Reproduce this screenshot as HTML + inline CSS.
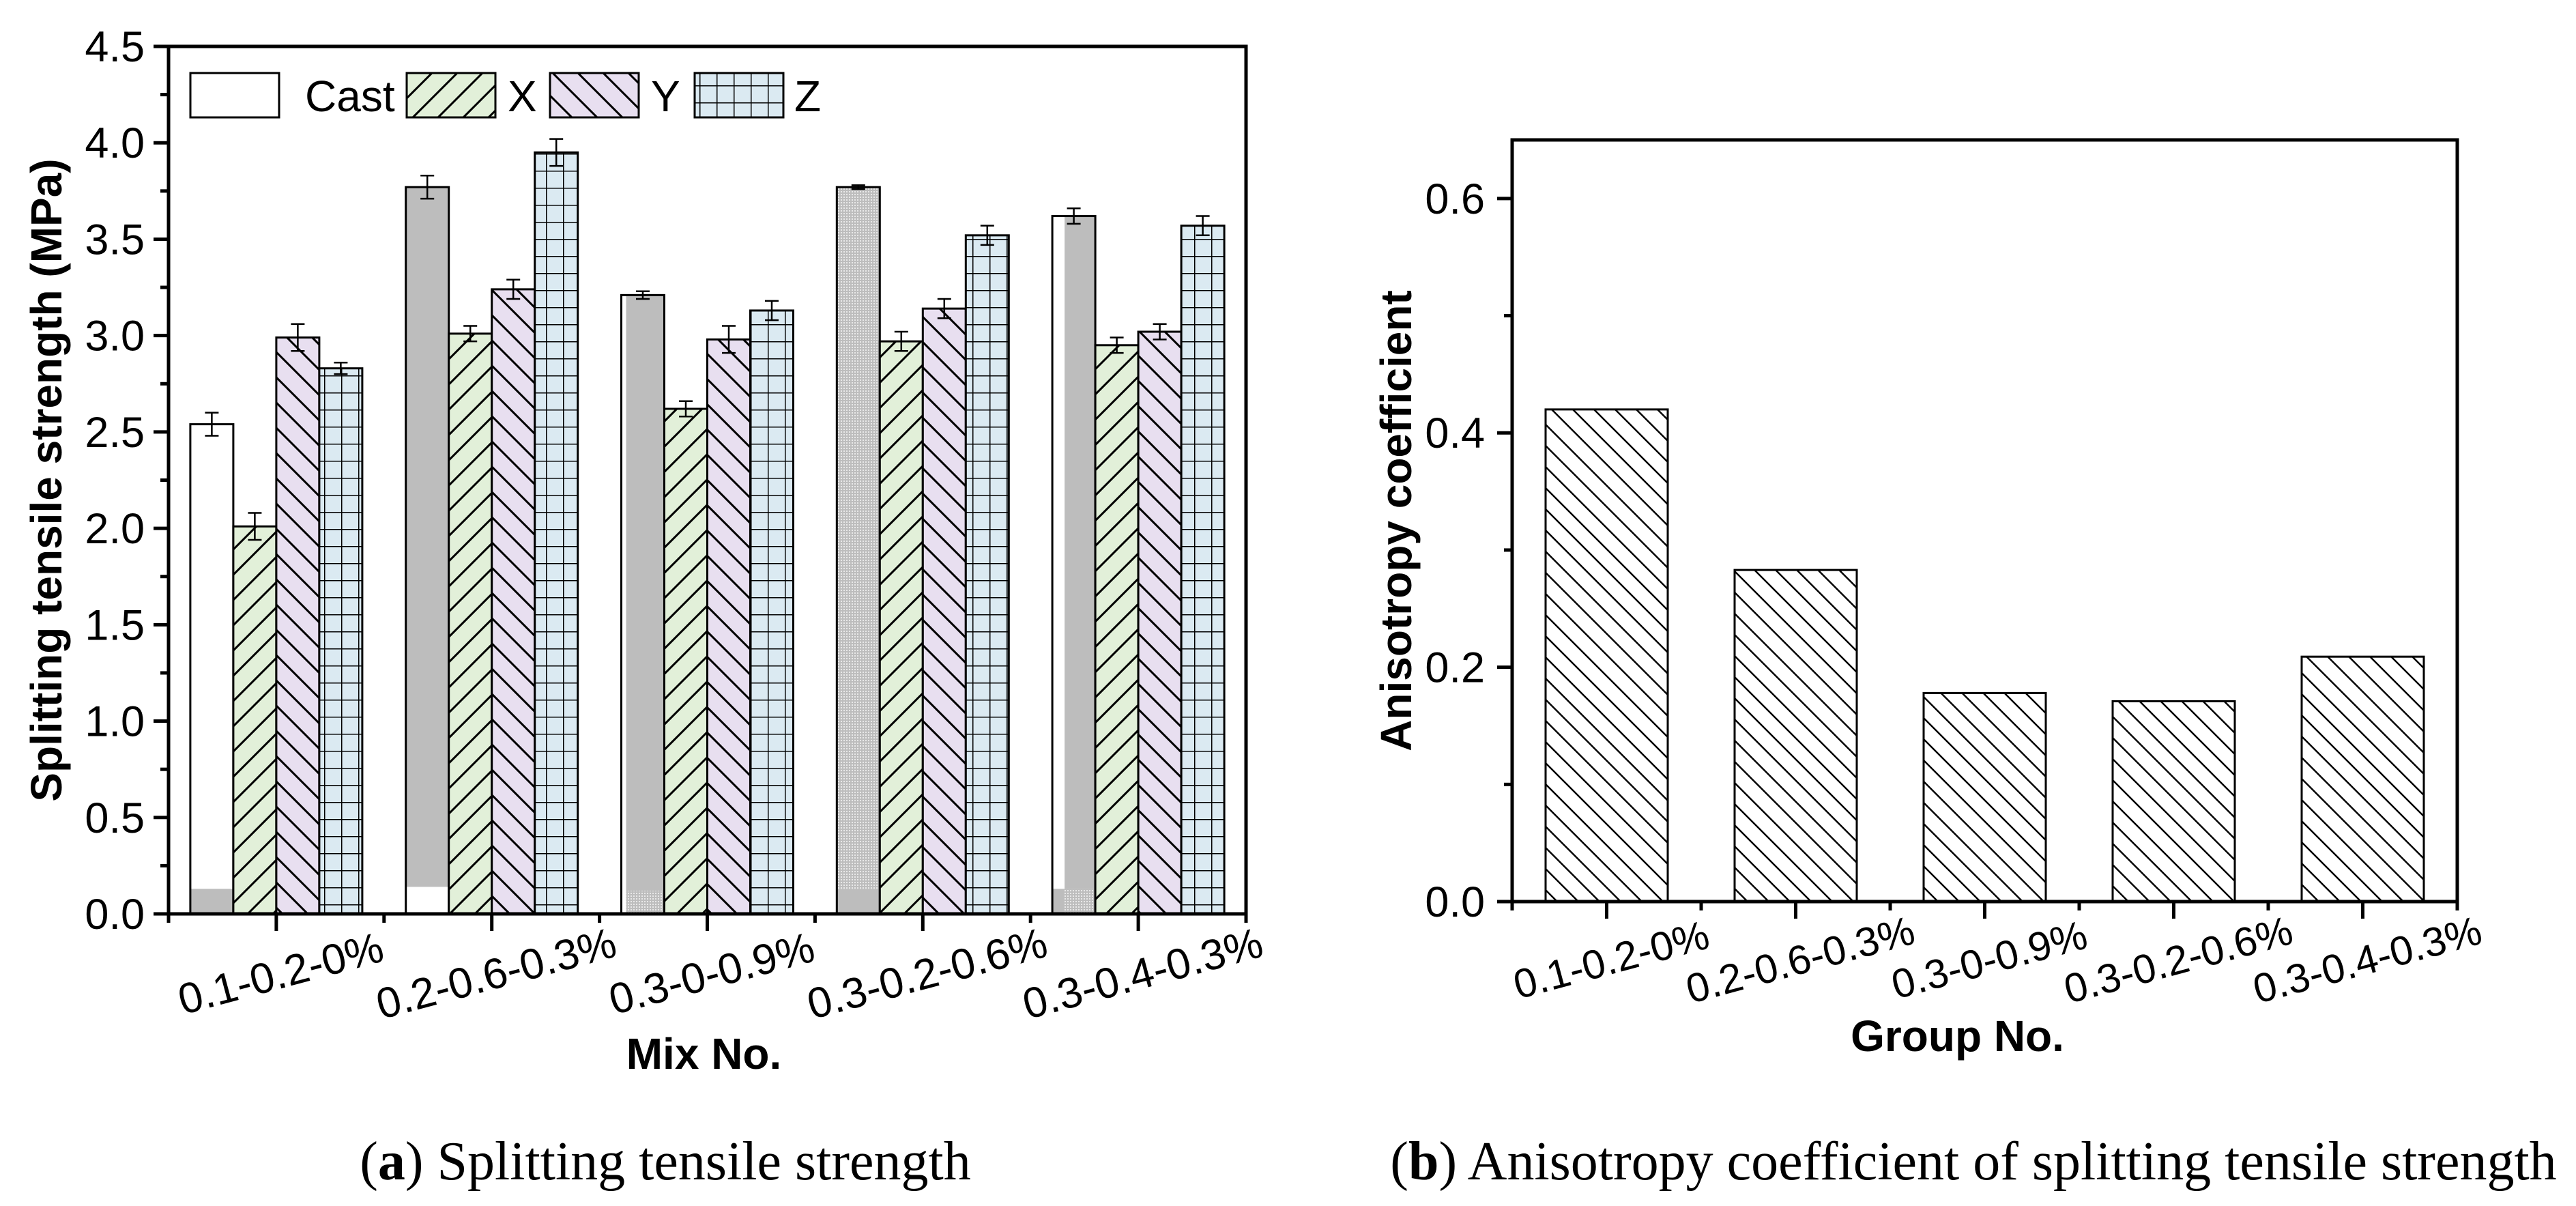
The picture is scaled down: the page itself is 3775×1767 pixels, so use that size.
<!DOCTYPE html>
<html><head><meta charset="utf-8"><style>
html,body{margin:0;padding:0;background:#fff}
svg{display:block}
text{font-family:"Liberation Sans",Arial,sans-serif}
</style></head><body>
<svg id="fig" width="3775" height="1767" viewBox="0 0 3775 1767" xmlns="http://www.w3.org/2000/svg">
<defs>
<pattern id="patX" patternUnits="userSpaceOnUse" width="37" height="37"><rect width="37" height="37" fill="#e2f0d9"/><path d="M-5,42 L42,-5 M-5,5 L5,-5 M32,42 L42,32" stroke="#000" stroke-width="3"/></pattern>
<pattern id="patY" patternUnits="userSpaceOnUse" width="37" height="37"><rect width="37" height="37" fill="#e8dff0"/><path d="M-5,-5 L42,42 M32,-5 L42,5 M-5,32 L5,42" stroke="#000" stroke-width="3"/></pattern>
<pattern id="patZ" patternUnits="userSpaceOnUse" width="25" height="25"><rect width="25" height="25" fill="#dbeaf2"/><path d="M0,0 H25 M0,0 V25" stroke="#000" stroke-width="3"/></pattern>
<pattern id="patDot" patternUnits="userSpaceOnUse" width="4" height="4"><rect width="4" height="4" fill="#bdbdbd"/><rect width="2" height="2" fill="#e8e8e8"/></pattern>
<pattern id="patB" patternUnits="userSpaceOnUse" width="31" height="31"><rect width="31" height="31" fill="#fff"/><path d="M-5,-5 L36,36 M26,-5 L36,5 M-5,26 L5,36" stroke="#000" stroke-width="2.5"/></pattern>
</defs>
<g id="chartA"></g>
<g id="chartB"></g>
<text style="font-family:'Liberation Serif',serif" x="975" y="1728" font-size="80" text-anchor="middle">(<tspan font-weight="bold">a</tspan>) Splitting tensile strength</text>
<text style="font-family:'Liberation Serif',serif" x="2892" y="1728" font-size="80" text-anchor="middle">(<tspan font-weight="bold">b</tspan>) Anisotropy coefficient of splitting tensile strength</text>
</svg>
<script>
const mixes = ["0.1-0.2-0%","0.2-0.6-0.3%","0.3-0-0.9%","0.3-0.2-0.6%","0.3-0.4-0.3%"];
const seriesNames = ["Cast","X","Y","Z"];
const castVals = [2.54,3.77,3.21,3.77,3.62];
const xVals = [2.01,3.01,2.62,2.97,2.95];
const yVals = [2.99,3.24,2.98,3.14,3.02];
const zVals = [2.83,3.95,3.13,3.52,3.57];
const castErr = [0.06,0.06,0.02,0.01,0.04];
const xErr = [0.07,0.04,0.04,0.05,0.04];
const yErr = [0.07,0.05,0.07,0.05,0.04];
const zErr = [0.03,0.07,0.05,0.05,0.05];
const castBase = [0.13,0.14,0.12,0.13,0.13];
const yTicksA = [0,0.5,1,1.5,2,2.5,3,3.5,4,4.5];
const groups = ["0.1-0.2-0%","0.2-0.6-0.3%","0.3-0-0.9%","0.3-0.2-0.6%","0.3-0.4-0.3%"];
const aniso = [0.42,0.283,0.178,0.171,0.209];
const yTicksB = [0,0.2,0.4,0.6];

const NS="http://www.w3.org/2000/svg";
function mk(parent,tag,attrs,txt){const e=document.createElementNS(NS,tag);for(const k in attrs)e.setAttribute(k,attrs[k]);if(txt!==undefined)e.textContent=txt;parent.appendChild(e);return e;}

// ---------- Chart A ----------
(function(){
const g=document.getElementById('chartA');
const L=247,R=1826,T=68,B=1339,ymax=4.5;
const yS=v=>B-(v/ymax)*(B-T);
const gw=(R-L)/mixes.length;
const bw=63;
const xS=(i,s)=>L+gw*i+(gw-4*bw)/2+s*bw;
const fills=[null,"url(#patX)","url(#patY)","url(#patZ)"];
const vals=[castVals,xVals,yVals,zVals];
const errs=[castErr,xErr,yErr,zErr];
for(let i=0;i<mixes.length;i++){
  for(let s=0;s<4;s++){
    const x=xS(i,s),v=vals[s][i],y=yS(v),h=B-y;
    if(s===0){
      const yb=yS(castBase[i]);
      const parts=[];
      if(i===0){parts.push([x,y,bw,yb-y,"#fff"]);parts.push([x,yb,bw,B-yb,"#bdbdbd"]);}
      else if(i===1){parts.push([x,y,bw,yb-y,"#bdbdbd"]);parts.push([x,yb,bw,B-yb,"#fff"]);}
      else if(i===2){parts.push([x,y,7,h,"#fff"]);parts.push([x+7,y,bw-7,yb-y,"#bdbdbd"]);parts.push([x+7,yb,bw-7,B-yb,"url(#patDot)"]);}
      else if(i===3){parts.push([x,y,bw,yb-y,"url(#patDot)"]);parts.push([x,yb,bw,B-yb,"#bdbdbd"]);}
      else {parts.push([x,y,18,yb-y,"#fff"]);parts.push([x+18,y,bw-18,yb-y,"#bdbdbd"]);parts.push([x,yb,18,B-yb,"#bdbdbd"]);parts.push([x+18,yb,bw-18,B-yb,"url(#patDot)"]);}
      parts.forEach(p=>{const r=mk(g,'rect',{x:p[0],y:p[1],width:p[2],height:p[3],fill:p[4]});
        
        });
      const o=mk(g,'rect',{x:x,y:y,width:bw,height:h,fill:"none",stroke:"#000","stroke-width":3});
      
      
    } else {
      const r=mk(g,'rect',{x:x,y:y,width:bw,height:h,fill:fills[s],stroke:"#000","stroke-width":3});
      
      
    }
    const e=errs[s][i],cx=x+bw/2,y1=yS(v+e),y2=yS(v-e);
    const eb=mk(g,'path',{d:`M${cx},${y1}V${y2}M${cx-10},${y1}H${cx+10}M${cx-10},${y2}H${cx+10}`,stroke:"#000","stroke-width":2.5,fill:"none"});
    
    
  }
}
const fr=mk(g,'rect',{x:L,y:T,width:R-L,height:B-T,fill:"none",stroke:"#000","stroke-width":5});


yTicksA.forEach(v=>{
  const y=yS(v);
  const t=mk(g,'line',{x1:L-22,x2:L,y1:y,y2:y,stroke:"#000","stroke-width":5});
  
  
  const lb=mk(g,'text',{x:L-35,y:y+22,"font-size":63,"text-anchor":"end"},v.toFixed(1));
  
  
  if(v<ymax){const m=mk(g,'line',{x1:L-12,x2:L,y1:yS(v+0.25),y2:yS(v+0.25),stroke:"#000","stroke-width":5});
    
    }
});
for(let i=0;i<=mixes.length;i++){
  const x=L+gw*i;
  const m=mk(g,'line',{x1:x,x2:x,y1:B,y2:B+13,stroke:"#000","stroke-width":5});
  
  
}
mixes.forEach((m,i)=>{
  const x=L+gw*(i+0.5);
  const t=mk(g,'line',{x1:x,x2:x,y1:B,y2:B+25,stroke:"#000","stroke-width":5});
  
  
  const lb=mk(g,'text',{x:0,y:0,"font-size":63,"text-anchor":"middle",transform:`translate(${x+12},${B+108}) rotate(-15)`},m);
  
  
});
const yt=mk(g,'text',{x:0,y:0,"font-size":64,"font-weight":"bold","text-anchor":"middle",transform:`translate(90,${(T+B)/2}) rotate(-90)`},"Splitting tensile strength (MPa)");


const xt=mk(g,'text',{x:(L+R)/2-5,y:1566,"font-size":64,"font-weight":"bold","text-anchor":"middle"},"Mix No.");


const leg=[[279,447,"Cast"],[596,744,"X"],[806,954,"Y"],[1018,1164,"Z"]];
const legFill=["#fff","url(#patX)","url(#patY)","url(#patZ)"];
leg.forEach((l,k)=>{
  const r=mk(g,'rect',{x:l[0],y:107,width:130,height:65,fill:legFill[k],stroke:"#000","stroke-width":3});
  
  
  const t=mk(g,'text',{x:l[1],y:163,"font-size":64},l[2]);
  
  
});
})();

// ---------- Chart B ----------
(function(){
const g=document.getElementById('chartB');
const L=2216,R=3601,T=205,B=1321,ymax=0.65;
const yS=v=>B-(v/ymax)*(B-T);
const gw=(R-L)/groups.length,bw=179;
groups.forEach((n,i)=>{
  const cx=L+gw*(i+0.5),y=yS(aniso[i]);
  const r=mk(g,'rect',{x:cx-bw/2,y:y,width:bw,height:B-y,fill:"url(#patB)",stroke:"#000","stroke-width":3});
  
  
});
const fr=mk(g,'rect',{x:L,y:T,width:R-L,height:B-T,fill:"none",stroke:"#000","stroke-width":5});


yTicksB.forEach(v=>{
  const y=yS(v);
  const t=mk(g,'line',{x1:L-22,x2:L,y1:y,y2:y,stroke:"#000","stroke-width":5});
  
  
  const lb=mk(g,'text',{x:L-40,y:y+22,"font-size":63,"text-anchor":"end"},v.toFixed(1));
  
  
  if(v+0.1<ymax){const m=mk(g,'line',{x1:L-12,x2:L,y1:yS(v+0.1),y2:yS(v+0.1),stroke:"#000","stroke-width":5});
    
    }
});
for(let i=0;i<=groups.length;i++){
  const x=L+gw*i;
  const m=mk(g,'line',{x1:x,x2:x,y1:B,y2:B+13,stroke:"#000","stroke-width":5});
  
  
}
groups.forEach((n,i)=>{
  const x=L+gw*(i+0.5);
  const t=mk(g,'line',{x1:x,x2:x,y1:B,y2:B+25,stroke:"#000","stroke-width":5});
  
  
  const lb=mk(g,'text',{x:0,y:0,"font-size":60,"text-anchor":"middle",transform:`translate(${x+12},${B+105}) rotate(-15)`},n);
  
  
});
const yt=mk(g,'text',{x:0,y:0,"font-size":64,"font-weight":"bold","text-anchor":"middle",transform:`translate(2068,${(T+B)/2}) rotate(-90)`},"Anisotropy coefficient");


const xt=mk(g,'text',{x:(L+R)/2-40,y:1540,"font-size":64,"font-weight":"bold","text-anchor":"middle"},"Group No.");


})();
</script>
</body></html>
